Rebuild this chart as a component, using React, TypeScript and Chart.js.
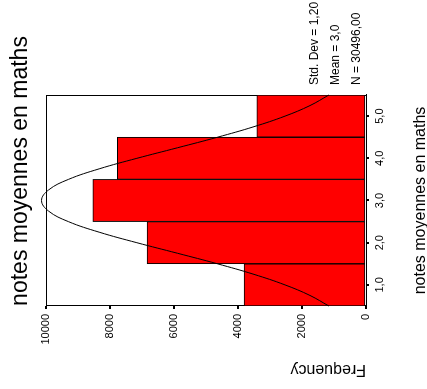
import React, { useEffect, useRef } from 'react';
import { Chart, registerables } from 'chart.js';

Chart.register(...registerables);

// ---- data ----
const binCenters = [1, 2, 3, 4, 5];
const frequencies = [3810, 6840, 8540, 7770, 3410];
const binTickLabels = ['1,0', '2,0', '3,0', '4,0', '5,0'];
const curveX = [0.5, 0.75, 1, 1.25, 1.5, 1.75, 2, 2.25, 2.5, 2.75, 3, 3.25, 3.5, 3.75, 4, 4.25, 4.5, 4.75, 5, 5.25, 5.5];
const curveY = [1160, 1750, 2530, 3500, 4640, 5890, 7160, 8340, 9300, 9920, 10140, 9920, 9300, 8340, 7160, 5890, 4640, 3500, 2530, 1750, 1160];
const freqMin = 0;
const freqMax = 10000;
const freqStep = 2000;
const chartTitle = 'notes moyennes en maths';
const xTitle = 'notes moyennes en maths';
const yTitle = 'Frequency';
const statsLines = ['Std. Dev = 1,20', 'Mean = 3,0', 'N = 30496,00'];

const FONT = '"Liberation Sans", Arial, sans-serif';

const spssPlugin = {
  id: 'spssDecor',
  beforeDatasetsDraw(chart: any) {
    const { ctx, chartArea: a } = chart;
    ctx.save();
    ctx.strokeStyle = '#000';
    ctx.lineWidth = 1;
    ctx.strokeRect(Math.round(a.left) + 0.5, Math.round(a.top) + 0.5, Math.round(a.right) - Math.round(a.left) - 1, Math.round(a.bottom) - Math.round(a.top));
    ctx.restore();
  },
  afterDraw(chart: any) {
    const { ctx, chartArea: a } = chart;
    ctx.save();
    ctx.fillStyle = '#000';
    ctx.textBaseline = 'alphabetic';
    ctx.font = `23px ${FONT}`;
    ctx.textAlign = 'center';
    ctx.fillText(chartTitle, 218, 27);
    ctx.font = `12px ${FONT}`;
    ctx.textAlign = 'left';
    statsLines.forEach((t, i) => {
      ctx.fillText(t, a.right + 10, a.bottom - 48 + i * 21);
    });
    ctx.restore();
  },
};

export default function App() {
  const ref = useRef<HTMLCanvasElement | null>(null);

  useEffect(() => {
    if (!ref.current) return;
    Chart.defaults.font.family = FONT;
    Chart.defaults.color = '#000';
    const chart = new Chart(ref.current, {
      type: 'bar',
      data: {
        datasets: [
          {
            type: 'line',
            data: curveX.map((x, i) => ({ x, y: curveY[i] })),
            borderColor: '#000',
            borderWidth: 1,
            pointRadius: 0,
            tension: 0.4,
            fill: false,
            clip: false,
            order: 0,
          } as any,
          {
            type: 'bar',
            data: binCenters.map((x, i) => ({ x, y: frequencies[i] })),
            backgroundColor: '#ff0000',
            borderColor: '#000',
            borderWidth: 1,
            borderSkipped: false,
            barPercentage: 1,
            categoryPercentage: 1,
            order: 1,
          } as any,
        ],
      },
      options: {
        animation: false,
        responsive: false,
        events: [],
        layout: { padding: { left: 0, top: 46, right: 95, bottom: 0 } },
        plugins: {
          legend: { display: false },
          tooltip: { enabled: false },
          title: { display: false },
        },
        scales: {
          x: {
            type: 'linear',
            min: 0.5,
            max: 5.5,
            offset: false,
            afterBuildTicks: (s: any) => {
              s.ticks = binCenters.map((v) => ({ value: v }));
            },
            afterFit: (s: any) => {
              s.height = 61;
            },
            grid: { display: true, drawOnChartArea: false, offset: false, color: '#000', lineWidth: 2, tickLength: 3 },
            border: { display: true, color: '#000', width: 1 },
            ticks: {
              autoSkip: false,
              maxRotation: 0,
              minRotation: 0,
              padding: 4,
              font: { size: 11 },
              color: '#000',
              callback: (v: any) => {
                const i = binCenters.indexOf(Number(v));
                return i >= 0 ? binTickLabels[i] : '';
              },
            },
            title: {
              display: true,
              text: xTitle,
              color: '#000',
              font: { size: 16, lineHeight: 0.8 },
              padding: { top: 0, bottom: 0 },
            },
          },
          y: {
            type: 'linear',
            min: freqMin,
            max: freqMax,
            afterFit: (s: any) => {
              s.width = 83;
            },
            grid: { display: true, drawOnChartArea: false, color: '#000', lineWidth: 2, tickLength: 3 },
            border: { display: true, color: '#000', width: 1 },
            ticks: {
              stepSize: freqStep,
              padding: 5,
              font: { size: 11 },
              color: '#000',
              callback: (v: any) => String(v),
            },
            title: {
              display: true,
              text: yTitle,
              align: 'start',
              color: '#000',
              font: { size: 16 },
              padding: { top: 10, bottom: 0 },
            },
          },
        },
      } as any,
      plugins: [spssPlugin],
    });
    return () => chart.destroy();
  }, []);

  return (
    <div style={{ position: 'fixed', left: 0, top: 0, width: 427, height: 389, overflow: 'hidden', background: '#fff' }}>
      <div
        style={{
          position: 'absolute',
          left: 0,
          top: 0,
          width: 389,
          height: 427,
          transformOrigin: '0 0',
          transform: 'translateY(389px) rotate(-90deg)',
        }}
      >
        <canvas ref={ref} width={389} height={427} style={{ display: 'block', width: 389, height: 427 }} />
      </div>
    </div>
  );
}
